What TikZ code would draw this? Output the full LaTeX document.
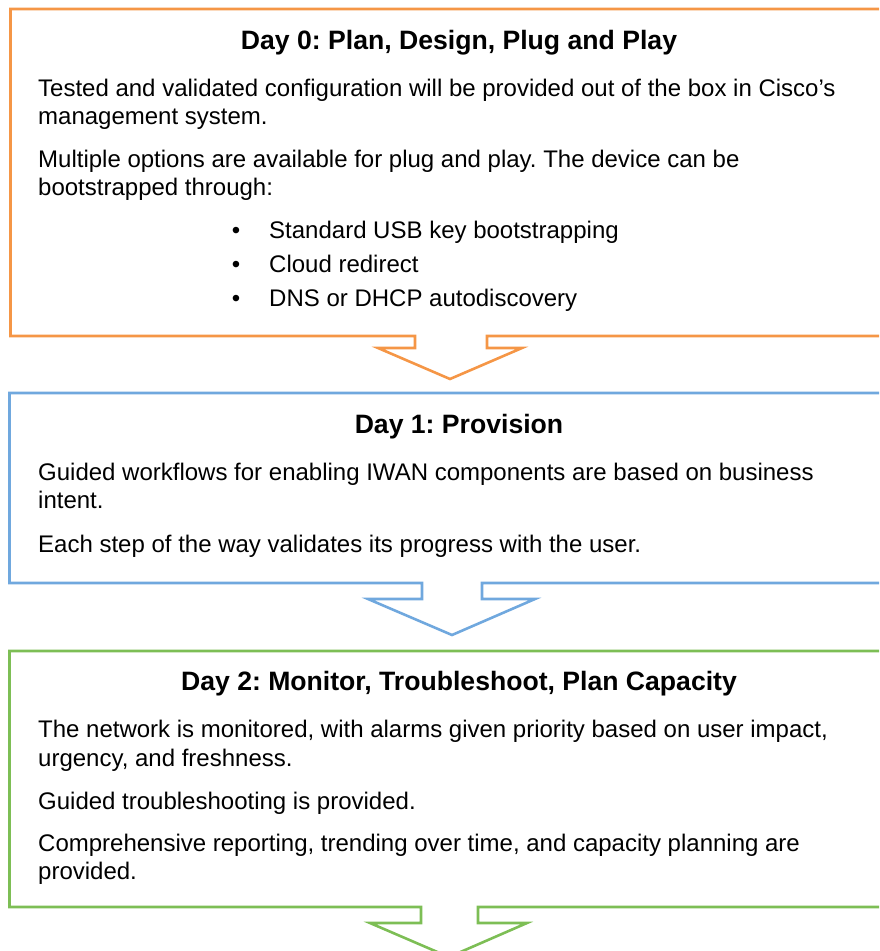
\documentclass[tikz,border=0pt]{standalone}
\usepackage{fontspec}
\setmainfont{Liberation Sans}
\frenchspacing
\definecolor{dayorange}{RGB}{245,150,70}
\definecolor{dayblue}{RGB}{112,168,222}
\definecolor{daygreen}{RGB}{125,190,85}
\begin{document}
\begin{tikzpicture}[x=1pt,y=-1pt,
  frame/.style={line width=2.6pt,line join=miter},
  title/.style={anchor=base,font=\bfseries\fontsize{26.6}{30}\selectfont,inner sep=0pt},
  body/.style={anchor=base west,font=\fontsize{24}{28}\selectfont,inner sep=0pt},
  bul/.style={anchor=base,font=\fontsize{24}{28}\selectfont,inner sep=0pt}]
\useasboundingbox (0,0) rectangle (879,951);
\clip (0,0) rectangle (879,951);

% Day 0 panel outline merged with its downward arrow
\draw[frame,dayorange]
  (415,336) -- (10.5,336) -- (10.5,9) -- (905,9) -- (905,336) -- (487,336)
  -- (487,348) -- (522,348) -- (450,379) -- (378,348) -- (415,348) -- cycle;

% Day 1 panel outline
\draw[frame,dayblue]
  (422,583) -- (9.5,583) -- (9.5,393) -- (905,393) -- (905,583) -- (482,583)
  -- (482,599) -- (535,599) -- (452,635) -- (368,599) -- (422,599) -- cycle;

% Day 2 panel outline
\draw[frame,daygreen]
  (421,907) -- (9.5,907) -- (9.5,651) -- (905,651) -- (905,907) -- (478,907)
  -- (478,923) -- (527,923) -- (449,957) -- (370,923) -- (421,923) -- cycle;

% Day 0 text
\node[title] (t0) at (459,49) {Day 0: Plan, Design, Plug and Play};
\node[body] (p0a) at (38,96) {Tested and validated configuration will be provided out of the box in Cisco’s};
\node[body] (p0b) at (38,124) {management system.};
\node[body] (p0c) at (38,167) {Multiple options are available for plug and play. The device can be};
\node[body] (p0d) at (38,195) {bootstrapped through:};
\node[bul] (d1) at (236,238) {•};
\node[body] (b1) at (269,238) {Standard USB key bootstrapping};
\node[bul] (d2) at (236,272) {•};
\node[body] (b2) at (269,272) {Cloud redirect};
\node[bul] (d3) at (236,306) {•};
\node[body] (b3) at (269,306) {DNS or DHCP autodiscovery};

% Day 1 text
\node[title] (t1) at (459,433) {Day 1: Provision};
\node[body] (p1a) at (38,480) {Guided workflows for enabling IWAN components are based on business};
\node[body] (p1b) at (38,508) {intent.};
\node[body] (p1c) at (38,552) {Each step of the way validates its progress with the user.};

% Day 2 text
\node[title] (t2) at (459,690) {Day 2: Monitor, Troubleshoot, Plan Capacity};
\node[body] (p2a) at (38,737) {The network is monitored, with alarms given priority based on user impact,};
\node[body] (p2b) at (38,766) {urgency, and freshness.};
\node[body] (p2c) at (38,809) {Guided troubleshooting is provided.};
\node[body] (p2d) at (38,851) {Comprehensive reporting, trending over time, and capacity planning are};
\node[body] (p2e) at (38,879) {provided.};
\end{tikzpicture}
\end{document}
